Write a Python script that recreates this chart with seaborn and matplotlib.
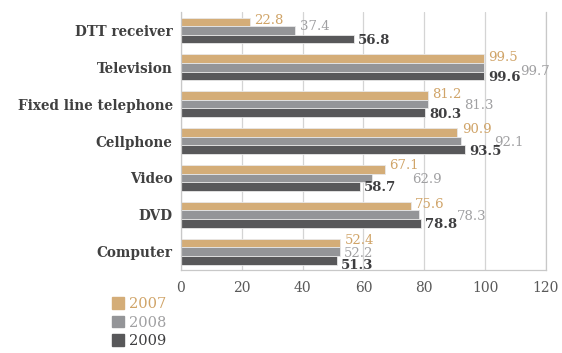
import pandas as pd
import seaborn as sns
import matplotlib
matplotlib.use("Agg")
import matplotlib.pyplot as plt

# household equipment, % by year
categories = ["DTT receiver", "Television", "Fixed line telephone", "Cellphone", "Video", "DVD", "Computer"]
years = ["2007", "2008", "2009"]
v2007 = [22.8, 99.5, 81.2, 90.9, 67.1, 75.6, 52.4]
v2008 = [37.4, 99.7, 81.3, 92.1, 62.9, 78.3, 52.2]
v2009 = [56.8, 99.6, 80.3, 93.5, 58.7, 78.8, 51.3]

bar_colors = ["#D4AD78", "#949598", "#58585A"]
text_colors = ["#D0A468", "#A0A0A2", "#3E3E40"]
# label shifts (points, +y is up) per series, the way the original placed them
dx_labels = [
	[3] * 7,
	[4, 26, 26, 24, 29, 27, 3],
	[3] * 7,
]
dy_labels = [
	[1, 1, 1, 2, 3, 1, 2],
	[3, -3, -1, -1, -1, -1, -1],
	[-1, -1, -1, -1, -1, -1, -4],
]

df = pd.DataFrame({
	"cat": categories * 3,
	"year": [y for y in years for _ in categories],
	"val": v2007 + v2008 + v2009,
})

sns.set_style("white")
plt.rcParams["font.family"] = ["DejaVu Serif"]

fig = plt.figure(figsize=(5.62, 3.53), dpi=100)
ax = fig.add_axes([0.322, 0.235, 0.6495, 0.731])

sns.barplot(data=df, y="cat", x="val", hue="year", orient="h", palette=bar_colors,
	width=0.7, order=categories, hue_order=years, ax=ax, legend=False,
	edgecolor="#E8E8E8", linewidth=0.6, saturation=1)

ax.set_xlim(0, 120)
ax.set_ylim(6.5, -0.5)
ax.set_xticks(range(0, 121, 20))
ax.set_xlabel("")
ax.set_ylabel("")
ax.grid(axis="x", color="#D4D4D4", linewidth=0.9)
ax.set_axisbelow(True)

# category labels at centres, ticks at group boundaries
ax.set_yticks(range(len(categories)))
ax.set_yticklabels(categories, fontsize=9.8, fontweight="bold", color="#404040")
ax.set_yticks([i + 0.5 for i in range(-1, len(categories))], minor=True)
ax.tick_params(axis="y", which="major", length=0, pad=6)
ax.tick_params(axis="y", which="minor", length=5, color="#C8C8C8", width=0.9)
ax.tick_params(axis="x", length=5, color="#C8C8C8", width=0.9, labelsize=10, labelcolor="#595959", pad=3)

ax.spines["top"].set_visible(False)
for s in ["left", "bottom", "right"]:
	ax.spines[s].set_color("#C8C8C8")
	ax.spines[s].set_linewidth(0.9)

for k, cont in enumerate(ax.containers):
	for j, bar in enumerate(cont):
		w = bar.get_width()
		yc = bar.get_y() + bar.get_height() / 2
		ax.annotate(f"{w:.1f}", (w, yc), xytext=(dx_labels[k][j], dy_labels[k][j]),
			textcoords="offset points", va="center", ha="left", fontsize=9.5,
			color=text_colors[k], fontweight="bold" if k == 2 else "normal",
			annotation_clip=False)

handles = [plt.Rectangle((0, 0), 1, 1, color=c) for c in bar_colors]
leg = fig.legend(handles, years, loc="upper left", bbox_to_anchor=(0.199, 0.158),
	frameon=False, fontsize=10.5, handlelength=0.85, handleheight=0.85,
	handletextpad=0.3, labelspacing=0.3, borderaxespad=0, borderpad=0)
for t, c in zip(leg.get_texts(), text_colors):
	t.set_color(c)

fig.savefig("out.png", dpi=100)
